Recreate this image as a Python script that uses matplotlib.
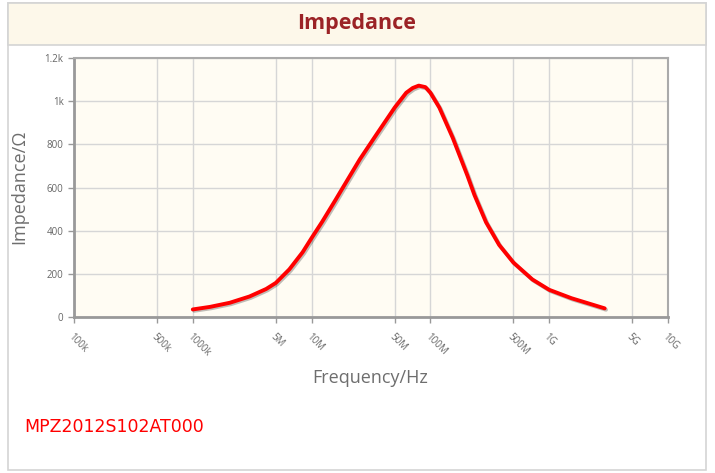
import matplotlib
matplotlib.use("Agg")
import matplotlib.pyplot as plt
import matplotlib.patheffects as pe
from matplotlib.patches import Rectangle

# impedance curve (Hz, ohm)
freq = [1.0e6, 1.4e6, 2.05e6, 3.0e6, 4.15e6, 5.0e6, 6.5e6, 8.4e6, 10e6, 12.3e6,
        16e6, 17.9e6, 25.5e6, 35.2e6, 50e6, 62.6e6, 71e6, 79.8e6, 90.8e6, 100e6,
        119e6, 154e6, 205e6, 235e6, 294e6, 379e6, 500e6, 721e6, 1.0e9, 1.54e9,
        2.26e9, 2.93e9]
imped = [35, 47, 66, 95, 130, 158, 221, 300, 366, 442,
         545, 590, 731, 846, 970, 1039, 1061, 1072, 1065, 1039,
         970, 831, 655, 565, 439, 334, 252, 174, 126, 87,
         59, 40]

xticks = [1e5, 5e5, 1e6, 5e6, 1e7, 5e7, 1e8, 5e8, 1e9, 5e9, 1e10]
xlabels = ["100k", "500k", "1000k", "5M", "10M", "50M", "100M", "500M", "1G", "5G", "10G"]
yticks = [0, 200, 400, 600, 800, 1000, 1200]
ylabels = ["0", "200", "400", "600", "800", "1k", "1.2k"]

W, H = 715, 473
fig = plt.figure(figsize=(W / 100, H / 100), dpi=100)
fig.patch.set_facecolor("white")

# panel frame and title band
fig.patches.append(Rectangle((8 / W, 1 - 470 / H), 698 / W, 467 / H, transform=fig.transFigure,
                             facecolor="white", edgecolor="#d4d4d4", lw=1.2, zorder=-2))
fig.patches.append(Rectangle((8 / W, 1 - 45 / H), 698 / W, 42 / H, transform=fig.transFigure,
                             facecolor="#fdf8ea", edgecolor="#d4d4d4", lw=1.2, zorder=-1))
fig.text(357 / W, 1 - 24 / H, "Impedance", ha="center", va="center", fontsize=15.5,
         fontweight="bold", color="#9b2326", family="Open Sans")

ax = fig.add_axes([74 / W, 1 - 317 / H, 594 / W, 259 / H])
ax.set_facecolor("#fffcf3")
ax.plot(freq, imped, color="#ff0000", lw=2.8, solid_capstyle="round", solid_joinstyle="round",
        path_effects=[pe.SimpleLineShadow(offset=(1, -1), alpha=0.25), pe.Normal()], zorder=3)

ax.set_xscale("log")
ax.set_xlim(1e5, 1e10)
ax.set_ylim(0, 1200)
ax.set_xticks(xticks)
ax.set_xticklabels(xlabels, rotation=-45, ha="left", va="top", rotation_mode="anchor")
ax.xaxis.set_minor_locator(matplotlib.ticker.NullLocator())
ax.set_yticks(yticks)
ax.set_yticklabels(ylabels)
ax.grid(True, color="#d6d6d6", lw=1)
ax.set_axisbelow(True)
ax.tick_params(axis="both", labelsize=7, labelcolor="#666666", color="#999999",
               length=4, width=1)
ax.tick_params(axis="x", pad=6)
for lab in ax.get_xticklabels() + ax.get_yticklabels():
    lab.set_family("Open Sans")
for side in ["left", "bottom"]:
    ax.spines[side].set_color("#999999")
    ax.spines[side].set_linewidth(2)
for side in ["top", "right"]:
    ax.spines[side].set_color("#aaaaaa")
    ax.spines[side].set_linewidth(1.5)

fig.text(19 / W, 1 - 187 / H, "Impedance/Ω", rotation=90, ha="center", va="center",
         fontsize=13, color="#6e6e6e", family="Open Sans")
fig.text(370 / W, 1 - 378 / H, "Frequency/Hz", ha="center", va="center",
         fontsize=13, color="#6e6e6e", family="Open Sans")
fig.text(24 / W, 1 - 427 / H, "MPZ2012S102AT000", ha="left", va="center",
         fontsize=12.5, color="#ff0000")

fig.savefig("out.png", dpi=100)
